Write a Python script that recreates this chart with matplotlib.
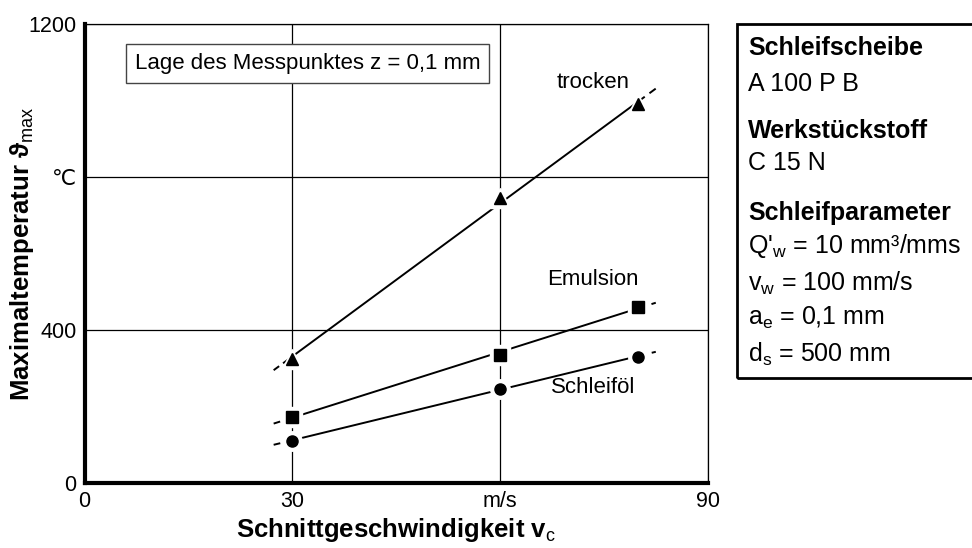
import numpy as np
import matplotlib
matplotlib.use("Agg")
from matplotlib import pyplot as plt
from matplotlib.patches import Rectangle

plt.rcParams['font.family'] = ['Liberation Sans', 'DejaVu Sans']
plt.rcParams['mathtext.fontset'] = 'custom'
plt.rcParams['mathtext.rm'] = 'Liberation Sans'
plt.rcParams['mathtext.it'] = 'Liberation Sans'
plt.rcParams['mathtext.bf'] = 'Liberation Sans:bold'

# data
v_c = [30, 60, 80]                 # Schnittgeschwindigkeit in m/s
trocken = [325, 745, 990]          # Maximaltemperatur in degC
emulsion = [173, 335, 461]
schleifoel = [110, 246, 330]

series = [("trocken", trocken, "^", 8.8, 1047),
          ("Emulsion", emulsion, "s", 8.0, 531),
          ("Schleiföl", schleifoel, "o", 8.0, 248)]

x_ticks = [0, 30, 60, 90]
x_ticklabels = ["0", "30", "m/s", "90"]
y_ticks = [0, 400, 800, 1200]
y_ticklabels = ["0", "400", "℃", "1200"]

fig = plt.figure(figsize=(9.72, 5.48), dpi=100)
ax = fig.add_axes([0.0871, 0.1192, 0.6410, 0.8365])

ax.set_xlim(0, 90)
ax.set_ylim(0, 1200)
ax.set_xticks(x_ticks)
ax.set_xticklabels(x_ticklabels)
ax.set_yticks(y_ticks)
ax.set_yticklabels(y_ticklabels)
ax.tick_params(length=0, labelsize=15.5, pad=6)
ax.grid(True, color="black", linewidth=0.9)
ax.set_axisbelow(True)
for side in ["left", "bottom"]:
    ax.spines[side].set_linewidth(3)
for side in ["top", "right"]:
    ax.spines[side].set_linewidth(0.9)

for name, vals, mk, ms, label_y in series:
    k, d = np.polyfit(v_c, vals, 1)
    xs = np.array([v_c[0], v_c[-1]])
    ax.plot(xs, k * xs + d, color="black", linewidth=1.4, zorder=3)
    # short dashed ends
    for x0, x1 in [(27.3, v_c[0]), (v_c[-1], 82.5)]:
        xe = np.array([x0, x1])
        ax.plot(xe, k * xe + d, color="black", linewidth=1.4,
                linestyle=(0, (4, 3)) if x0 > 50 else (0, (3.5, 2.5)), zorder=3)
    # white halo round the markers
    ax.plot(v_c, vals, linestyle="none", marker=mk, markersize=ms + 6,
            color="white", zorder=4)
    ax.plot(v_c, vals, linestyle="none", marker=mk, markersize=ms,
            color="black", zorder=5)
    ax.text(73.4, label_y, name, fontsize=16, ha="center", va="center", zorder=6)

ax.text(7.2, 1097, "Lage des Messpunktes z = 0,1 mm", fontsize=16,
        ha="left", va="center",
        bbox=dict(boxstyle="square,pad=0.4", facecolor="white",
                  edgecolor="#444444", linewidth=1))

ax.set_xlabel("Schnittgeschwindigkeit v$_\\mathrm{c}$", fontsize=18.5,
              fontweight="bold", va="center")
ax.xaxis.set_label_coords(0.5, -0.103)
ax.set_ylabel("Maximaltemperatur ϑ$_\\mathrm{max}$", fontsize=18.5,
              fontweight="bold", va="center")
ax.yaxis.set_label_coords(-0.101, 0.5)

# parameter box on the right
fig.patches.append(Rectangle((737 / 972, 1 - 378 / 548), 0.3, (378 - 24) / 548,
                             transform=fig.transFigure, facecolor="none",
                             edgecolor="black", linewidth=2, clip_on=False))
panel = [("Schleifscheibe", 48, True),
         ("A 100 P B", 84, False),
         ("Werkstückstoff", 131, True),
         ("C 15 N", 163, False),
         ("Schleifparameter", 213, True),
         ("Q'$_\\mathrm{w}$ = 10 mm³/mms", 246, False),
         ("v$_\\mathrm{w}$ = 100 mm/s", 283, False),
         ("a$_\\mathrm{e}$ = 0,1 mm", 318, False),
         ("d$_\\mathrm{s}$ = 500 mm", 354, False)]
for txt, ypix, bold in panel:
    fig.text(748 / 972, 1 - ypix / 548, txt, fontsize=18,
             fontweight="bold" if bold else "normal", ha="left", va="center")

fig.savefig("out.png", dpi=100)
